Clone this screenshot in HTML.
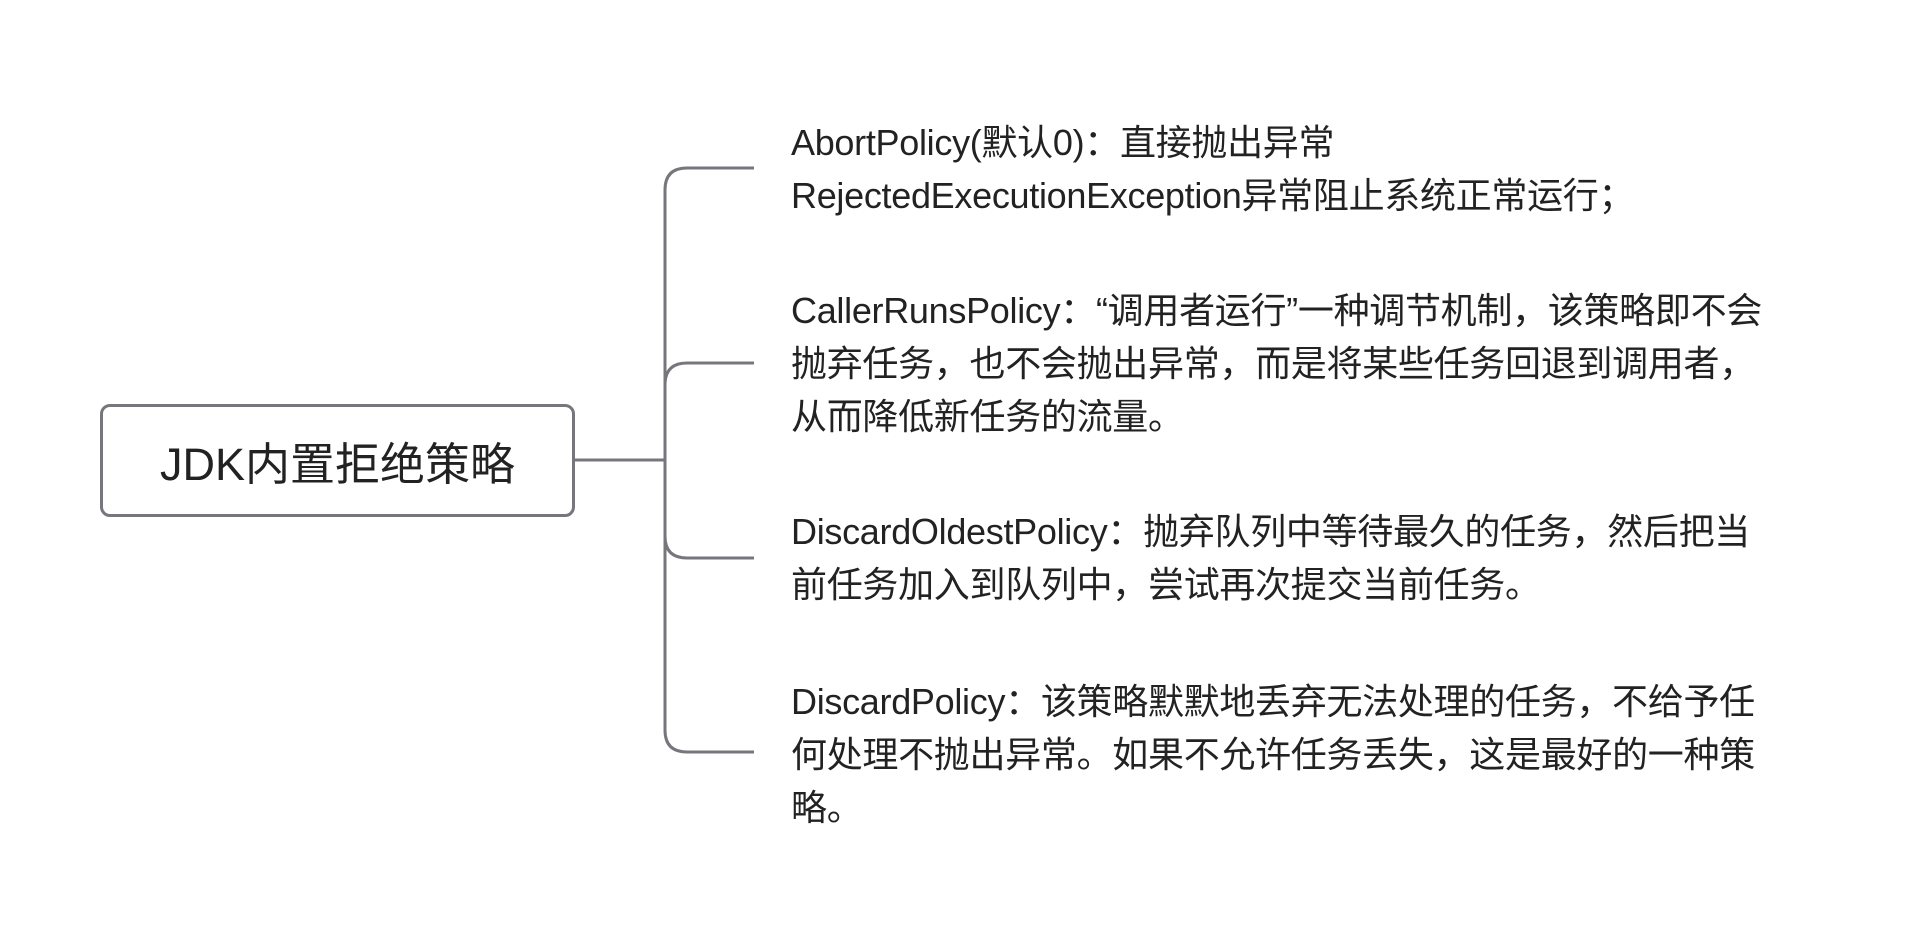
<!DOCTYPE html>
<html><head><meta charset="utf-8"><style>
body{margin:0;width:1914px;height:944px;background:#fff;position:relative;overflow:hidden;font-family:"Liberation Sans","Noto Sans CJK SC",sans-serif;color:#222}
.l{position:absolute;left:791px;font-size:36px;line-height:53px;white-space:nowrap;height:53px;letter-spacing:-0.3px}
.box{position:absolute;left:100px;top:404px;width:469px;height:107px;border:3px solid #77767c;border-radius:10px;font-size:45px;display:flex;align-items:center;justify-content:center}
</style></head><body>
<svg width="1914" height="944" style="position:absolute;left:0;top:0" fill="none" stroke="#77767c" stroke-width="3">
<path d="M572 460H665"/>
<path d="M754 168H687Q665 168 665 190V730Q665 752 687 752H754"/>
<path d="M754 363H687Q665 363 665 385"/>
<path d="M665 536Q665 558 687 558H754"/>
</svg>
<div class="box">JDK内置拒绝策略</div>
<div class="l" style="top:116px">AbortPolicy(默认0)：直接抛出异常</div>
<div class="l" style="top:169px">RejectedExecutionException异常阻止系统正常运行；</div>
<div class="l" style="top:284px">CallerRunsPolicy：“调用者运行”一种调节机制，该策略即不会</div>
<div class="l" style="top:337px">抛弃任务，也不会抛出异常，而是将某些任务回退到调用者，</div>
<div class="l" style="top:390px">从而降低新任务的流量。</div>
<div class="l" style="top:505px">DiscardOldestPolicy：抛弃队列中等待最久的任务，然后把当</div>
<div class="l" style="top:558px">前任务加入到队列中，尝试再次提交当前任务。</div>
<div class="l" style="top:675px">DiscardPolicy：该策略默默地丢弃无法处理的任务，不给予任</div>
<div class="l" style="top:728px">何处理不抛出异常。如果不允许任务丢失，这是最好的一种策</div>
<div class="l" style="top:781px">略。</div>
</body></html>
